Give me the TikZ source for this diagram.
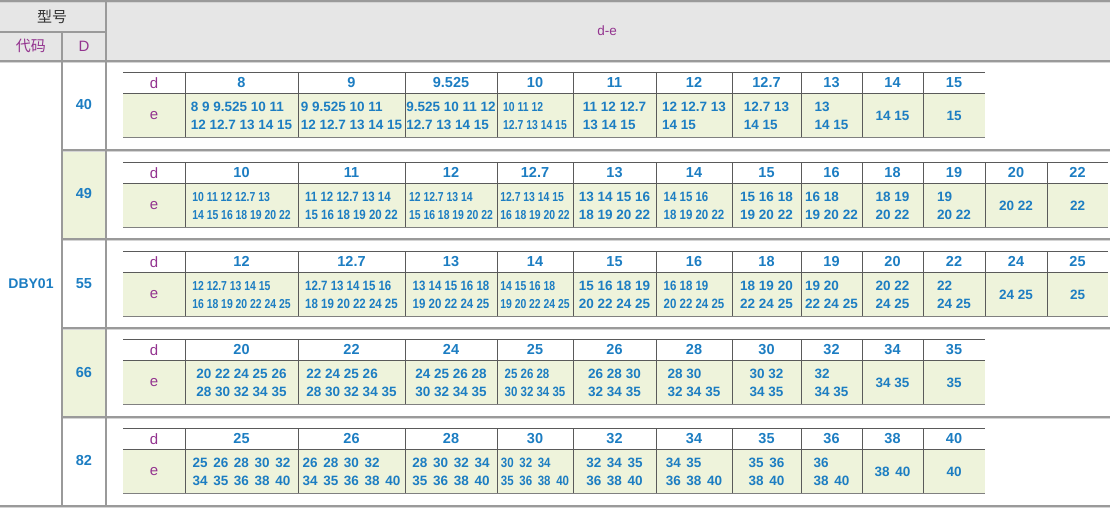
\documentclass[tikz,border=0pt]{standalone}
\usepackage{fontspec}
\setmainfont{Liberation Sans}
\newfontfamily\condA[FakeStretch=0.8]{Liberation Sans}
\newfontfamily\condB[FakeStretch=0.85]{Liberation Sans}
\newfontfamily\cjk{Noto Sans CJK SC}
\definecolor{numblue}{HTML}{1C7DC2}
\definecolor{labpurple}{HTML}{93338F}
\definecolor{egreen}{HTML}{EEF3DB}
\definecolor{hdrgray}{HTML}{E6E6E6}
\definecolor{outcol}{HTML}{9A9A9A}
\definecolor{outshade}{HTML}{D4D4D4}
\definecolor{incol}{HTML}{5A5A5A}
\newcommand\wsp{\hspace{0.42em}}
\def\cols{{185,298,405,497,573,656,732,801,862,923,985,1047,1108}}
\tikzset{
  eqn/.style={font=\bfseries\fontsize{13.5}{18.5}\selectfont},
  eqc/.style={font=\condA\bfseries\fontsize{13}{18}\selectfont},
  eqm/.style={font=\condB\bfseries\fontsize{13.5}{18}\selectfont},
  ecell/.style={text=numblue, align=left, inner sep=0pt},
  dcell/.style={text=numblue, font=\bfseries\fontsize{14.5}{16}\selectfont, inner sep=0pt},
  lab/.style={text=labpurple, font=\fontsize{15}{16}\selectfont, inner sep=0pt},
  hdr/.style={text=labpurple, font=\fontsize{15}{16}\selectfont, inner sep=0pt},
  dval/.style={text=numblue, font=\bfseries\fontsize{14.5}{16}\selectfont, inner sep=0pt},
  outl/.style={draw=outcol, line width=1.1pt},
  inl/.style={draw=incol, line width=0.8pt},
  botl/.style={draw=gray, line width=1.6pt},
}
% #1 name, #2 top y, #3 number of columns, #4 list
\newcommand\subtab[4]{%
  \pgfmathsetmacro\ya{#2}%
  \pgfmathsetmacro\yb{#2+21.5}%
  \pgfmathsetmacro\yc{#2+65.5}%
  \pgfmathsetmacro\xe{\cols[#3]}%
  \fill[egreen] (123,\yb) rectangle (\xe,\yc);
  \node[lab] (#1-d) at (154,{(\ya+\yb)/2}) {d};
  \node[lab] (#1-e) at (154,{(\yb+\yc)/2}) {e};
  \foreach \dv/\ev/\f [count=\i from 0] in {#4} {
    \pgfmathsetmacro\xl{\cols[\i]}
    \pgfmathsetmacro\xr{\cols[\i+1]}
    \node[dcell] (#1-d\i) at ({(\xl+\xr)/2},{(\ya+\yb)/2}) {\dv};
    \node[ecell,\f] (#1-e\i) at ({(\xl+\xr)/2},{(\yb+\yc)/2+0.5}) {\ev};
    \draw[inl] (\xl,\ya) -- (\xl,\yc);
  }
  \draw[inl] (123,\ya) -- (\xe,\ya) (123,\yb) -- (\xe,\yb);
  \draw[botl] (123,\yc) -- (\xe,\yc);
}
\begin{document}
\begin{tikzpicture}[x=1pt,y=-1pt]
\useasboundingbox (0,0) rectangle (1110,508);
% header background
\fill[hdrgray] (0,1) rectangle (1110,61);
\fill[egreen] (62,150) rectangle (106,239);
\fill[egreen] (62,328) rectangle (106,417);
% outer lines (shade)
\draw[outshade, line width=1pt] (0,2.5) -- (1110,2.5) (0,62.5) -- (1110,62.5)
  (62,151.5) -- (1110,151.5) (62,240.5) -- (1110,240.5) (62,329.5) -- (1110,329.5)
  (62,418.5) -- (1110,418.5) (0,507.5) -- (1110,507.5);
\draw[outl] (0,1) -- (1110,1);
\draw[outl] (0,32) -- (106,32);
\draw[outl] (0,61) -- (1110,61);
\draw[outl] (62,32) -- (62,506);
\draw[outl] (106,1) -- (106,506);
\draw[outl] (62,150) -- (1110,150) (62,239) -- (1110,239) (62,328) -- (1110,328) (62,417) -- (1110,417);
\draw[outl] (0,506) -- (1110,506);
% header texts
\node[inner sep=0pt, text=black!80, font=\cjk\fontsize{15}{16}\selectfont] (xh) at (52,17) {型号};
\node[hdr, font=\cjk\fontsize{15}{16}\selectfont] (dm) at (31,46) {代码};
\node[hdr] (dD) at (84,46) {D};
\node[hdr, font=\fontsize{13.5}{16}\selectfont] (de) at (607,31) {d-e};
\node[dval, font=\bfseries\fontsize{14}{16}\selectfont] (code) at (31,284) {DBY01};
\node[dval] (D40) at (84,105) {40};
\node[dval] (D49) at (84,194) {49};
\node[dval] (D55) at (84,284) {55};
\node[dval] (D66) at (84,373) {66};
\node[dval] (D82) at (84,461) {82};
% sub-tables
\subtab{tA}{72}{10}{
 {8}/{8 9 9.525 10 11\\12 12.7 13 14 15}/eqn,
 {9}/{9 9.525 10 11\\12 12.7 13 14 15}/eqn,
 {9.525}/{9.525 10 11 12\\12.7 13 14 15}/eqn,
 {10}/{10 11 12\\12.7 13 14 15}/eqc,
 {11}/{11 12 12.7\\13 14 15}/eqn,
 {12}/{12 12.7 13\\14 15}/eqn,
 {12.7}/{12.7 13\\14 15}/eqn,
 {13}/{13\\14 15}/eqn,
 {14}/{14 15}/eqn,
 {15}/{15}/eqn}
\subtab{tB}{162}{12}{
 {10}/{10 11 12 12.7 13\\14 15 16 18 19 20 22}/eqc,
 {11}/{11 12 12.7 13 14\\15 16 18 19 20 22}/eqm,
 {12}/{12 12.7 13 14\\15 16 18 19 20 22}/eqc,
 {12.7}/{12.7 13 14 15\\16 18 19 20 22}/eqc,
 {13}/{13 14 15 16\\18 19 20 22}/eqn,
 {14}/{14 15 16\\18 19 20 22}/eqm,
 {15}/{15 16 18\\19 20 22}/eqn,
 {16}/{16 18\\19 20 22}/eqn,
 {18}/{18 19\\20 22}/eqn,
 {19}/{19\\20 22}/eqn,
 {20}/{20 22}/eqn,
 {22}/{22}/eqn}
\subtab{tC}{251}{12}{
 {12}/{12 12.7 13 14 15\\16 18 19 20 22 24 25}/eqc,
 {12.7}/{12.7 13 14 15 16\\18 19 20 22 24 25}/eqm,
 {13}/{13 14 15 16 18\\19 20 22 24 25}/eqm,
 {14}/{14 15 16 18\\19 20 22 24 25}/eqc,
 {15}/{15 16 18 19\\20 22 24 25}/eqn,
 {16}/{16 18 19\\20 22 24 25}/eqm,
 {18}/{18 19 20\\22 24 25}/eqn,
 {19}/{19 20\\22 24 25}/eqn,
 {20}/{20 22\\24 25}/eqn,
 {22}/{22\\24 25}/eqn,
 {24}/{24 25}/eqn,
 {25}/{25}/eqn}
\subtab{tD}{339}{10}{
 {20}/{20 22 24 25 26\\28 30 32 34 35}/eqn,
 {22}/{22 24 25 26\\28 30 32 34 35}/eqn,
 {24}/{24 25 26 28\\30 32 34 35}/eqn,
 {25}/{25 26 28\\30 32 34 35}/eqm,
 {26}/{26 28 30\\32 34 35}/eqn,
 {28}/{28 30\\32 34 35}/eqn,
 {30}/{30 32\\34 35}/eqn,
 {32}/{32\\34 35}/eqn,
 {34}/{34 35}/eqn,
 {35}/{35}/eqn}
\subtab{tE}{428}{10}{
 {25}/{25\wsp26\wsp28\wsp30\wsp32\\34\wsp35\wsp36\wsp38\wsp40}/eqn,
 {26}/{26\wsp28\wsp30\wsp32\\34\wsp35\wsp36\wsp38\wsp40}/eqn,
 {28}/{28\wsp30\wsp32\wsp34\\35\wsp36\wsp38\wsp40}/eqn,
 {30}/{30\wsp32\wsp34\\35\wsp36\wsp38\wsp40}/eqm,
 {32}/{32\wsp34\wsp35\\36\wsp38\wsp40}/eqn,
 {34}/{34\wsp35\\36\wsp38\wsp40}/eqn,
 {35}/{35\wsp36\\38\wsp40}/eqn,
 {36}/{36\\38\wsp40}/eqn,
 {38}/{38\wsp40}/eqn,
 {40}/{40}/eqn}
\end{tikzpicture}
\end{document}
